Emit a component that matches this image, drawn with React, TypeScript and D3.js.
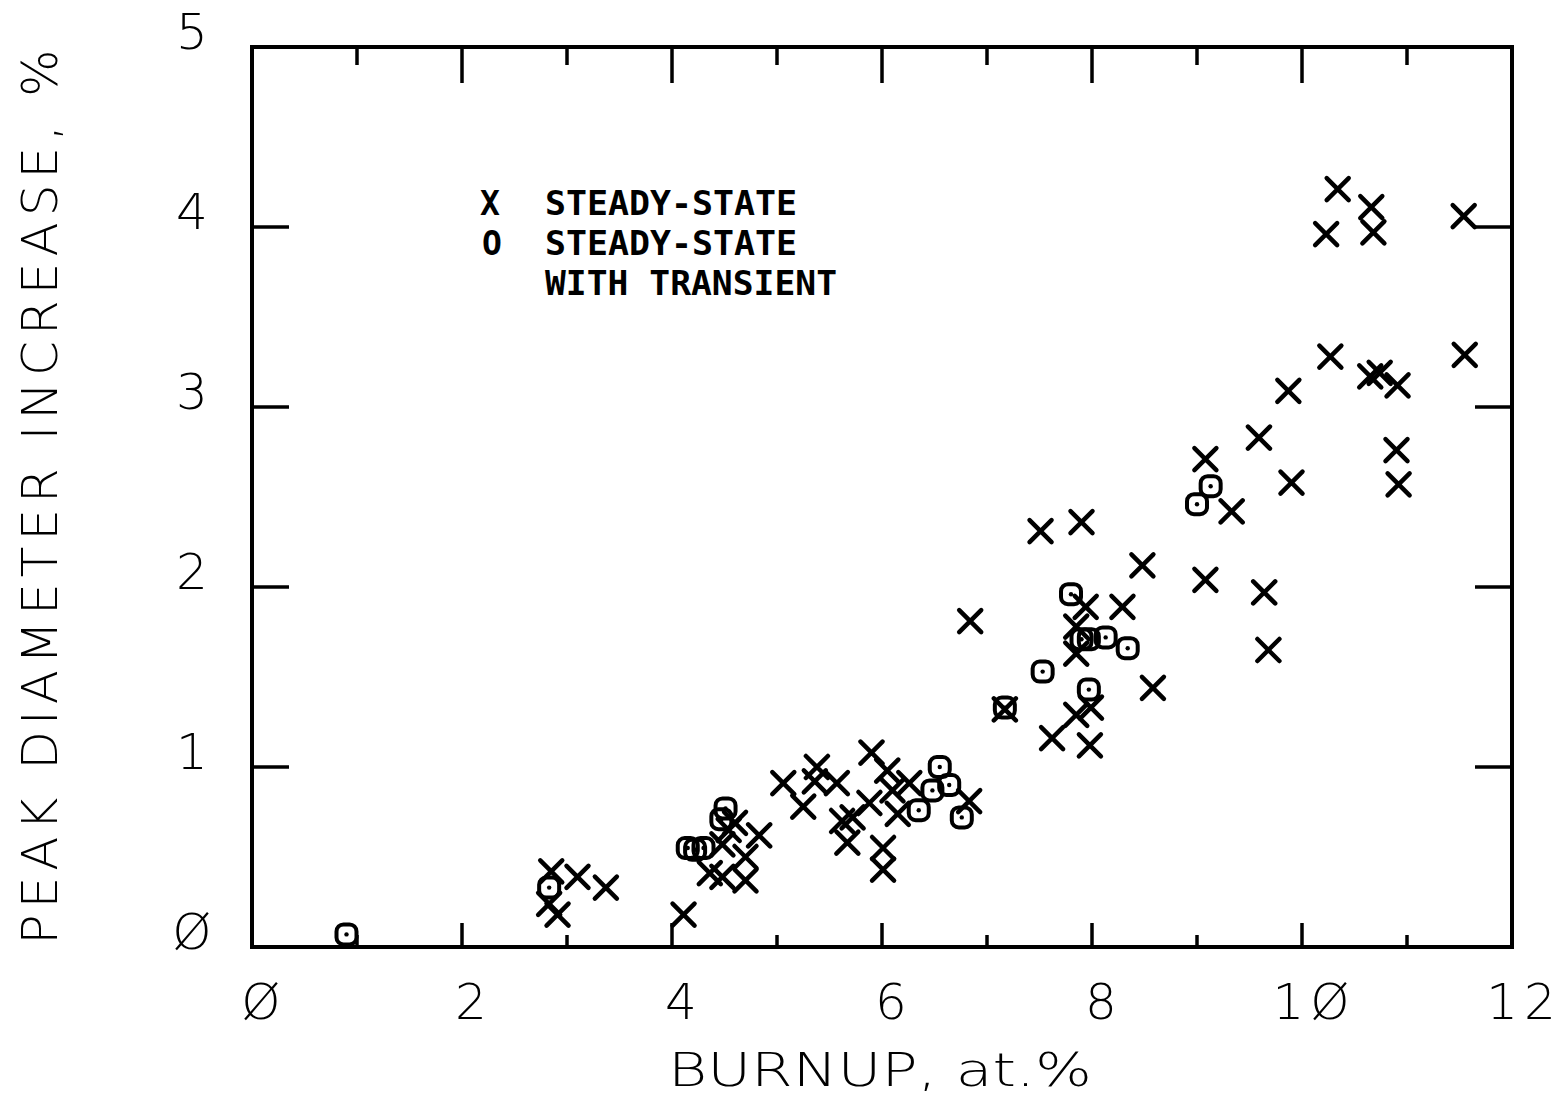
import React from "react";
import * as d3 from "d3";

// Steady-state (X markers): [burnup at.%, peak diameter increase %]
const steadyBurnup = [2.85, 2.83, 2.91, 3.1, 3.37, 4.11, 4.36, 4.48, 4.7, 4.7, 4.48, 4.54, 4.6, 4.83, 5.06, 5.38, 5.36, 5.57, 5.25, 5.62, 5.72, 5.67, 5.88, 5.9, 6.05, 6.1, 6.26, 6.15, 6.01, 6.01, 6.83, 6.84, 7.17, 7.51, 7.9, 8.48, 9.08, 9.33, 7.94, 8.29, 7.85, 7.85, 8.58, 7.99, 7.85, 7.62, 7.98, 10.34, 10.66, 10.23, 10.68, 11.54, 10.27, 11.55, 10.65, 10.74, 10.91, 9.87, 9.59, 10.9, 9.08, 9.9, 10.92, 9.64, 9.68];
const steadyIncrease = [0.42, 0.24, 0.18, 0.39, 0.33, 0.18, 0.41, 0.39, 0.37, 0.5, 0.57, 0.65, 0.69, 0.62, 0.91, 1.0, 0.92, 0.91, 0.78, 0.7, 0.72, 0.58, 0.8, 1.08, 0.98, 0.87, 0.91, 0.74, 0.55, 0.43, 0.81, 1.81, 1.32, 2.31, 2.36, 2.12, 2.04, 2.42, 1.89, 1.89, 1.78, 1.63, 1.44, 1.33, 1.29, 1.16, 1.12, 4.21, 4.11, 3.96, 3.97, 4.06, 3.28, 3.29, 3.17, 3.19, 3.12, 3.09, 2.83, 2.76, 2.71, 2.58, 2.57, 1.97, 1.65];

// Steady-state with transient (O markers)
const transientBurnup = [0.9, 2.83, 4.15, 4.22, 4.3, 4.47, 4.51, 6.35, 6.48, 6.55, 6.64, 6.76, 7.17, 7.53, 7.8, 7.9, 7.97, 8.13, 8.34, 7.97, 9.0, 9.13];
const transientIncrease = [0.07, 0.33, 0.55, 0.54, 0.55, 0.71, 0.77, 0.76, 0.87, 1.0, 0.9, 0.72, 1.33, 1.53, 1.96, 1.71, 1.71, 1.72, 1.66, 1.43, 2.46, 2.56];

const xTickLabels = ["Ø", "2", "4", "6", "8", "1Ø", "12"];
const xTickValues = [0, 2, 4, 6, 8, 10, 12];
const yTickLabels = ["Ø", "1", "2", "3", "4", "5"];
const yTickValues = [0, 1, 2, 3, 4, 5];
const legendLines = ["STEADY-STATE", "STEADY-STATE", "WITH TRANSIENT"];

const W = 1567;
const H = 1097;
const L = 252, R = 1512, T = 47, B = 947;

export default function App() {
  const x = d3.scaleLinear().domain([0, 12]).range([L, R]);
  const y = d3.scaleLinear().domain([0, 5]).range([B, T]);
  const ink = "#000";
  const minorX = d3.range(0, 13);

  const plotterFont = "'DejaVu Sans', sans-serif";

  const xs = steadyBurnup.map((b, i) => [x(b), y(steadyIncrease[i])]);
  const os = transientBurnup.map((b, i) => [x(b), y(transientIncrease[i])]);
  const s = 11;

  return (
    <svg width={W} height={H} style={{ position: "absolute", left: 0, top: 0, background: "#fff" }}>
      <rect x={0} y={0} width={W} height={H} fill="#fff" />
      {/* frame */}
      <rect x={L} y={T} width={R - L} height={B - T} fill="none" stroke={ink} strokeWidth={4} />
      {/* top & bottom ticks */}
      {minorX.map((v) => {
        const major = v % 2 === 0;
        if (v === 0 || v === 12) return null;
        return (
          <g key={"xt" + v}>
            <line x1={x(v)} x2={x(v)} y1={T} y2={T + (major ? 36 : 18)} stroke={ink} strokeWidth={3.5} />
            <line x1={x(v)} x2={x(v)} y1={B} y2={B - (major ? 24 : 12)} stroke={ink} strokeWidth={3.5} />
          </g>
        );
      })}
      {/* left & right ticks */}
      {[1, 2, 3, 4].map((v) => (
        <g key={"yt" + v}>
          <line x1={L} x2={L + 37} y1={y(v)} y2={y(v)} stroke={ink} strokeWidth={3.5} />
          <line x1={R} x2={R - 37} y1={y(v)} y2={y(v)} stroke={ink} strokeWidth={3.5} />
        </g>
      ))}
      {/* x tick labels */}
      {xTickValues.map((v, i) => (
        <text key={"xl" + v} x={x(v) + 12} y={1019} textAnchor="middle" fontFamily={plotterFont}
          fontWeight={200} fontSize={50} fill={ink} letterSpacing={6}>
          {xTickLabels[i]}
        </text>
      ))}
      {/* y tick labels */}
      {yTickValues.map((v, i) => (
        <text key={"yl" + v} x={192} y={y(v) + 2} textAnchor="middle" fontFamily={plotterFont}
          fontWeight={200} fontSize={50} fill={ink}>
          {yTickLabels[i]}
        </text>
      ))}
      {/* axis titles */}
      <text x={880} y={1086} textAnchor="middle" fontFamily={plotterFont} fontWeight={200} fontSize={46}
        fill={ink} textLength={424} lengthAdjust="spacingAndGlyphs">
        BURNUP, at.%
      </text>
      <text transform="translate(57,497) rotate(-90)" textAnchor="middle" fontFamily={plotterFont}
        fontWeight={200} fontSize={50} fill={ink} textLength={895} lengthAdjust="spacing">
        PEAK DIAMETER INCREASE, %
      </text>
      {/* legend */}
      <text x={490} y={215} textAnchor="middle" fontFamily="'DejaVu Sans Mono', monospace" fontWeight="bold" fontSize={33} fill={ink}>X</text>
      <text x={492} y={255} textAnchor="middle" fontFamily="'DejaVu Sans Mono', monospace" fontWeight="bold" fontSize={33} fill={ink}>O</text>
      {legendLines.map((t, i) => (
        <text key={"lg" + i} x={545} y={215 + 40 * i} fontFamily="'DejaVu Sans Mono', monospace" fontWeight="bold"
          fontSize={34} fill={ink} textLength={i === 2 ? 292 : 252} lengthAdjust="spacingAndGlyphs">
          {t}
        </text>
      ))}
      {/* steady-state X markers */}
      {xs.map(([cx, cy], i) => (
        <path key={"x" + i} d={`M${cx - s},${cy - s}L${cx + s},${cy + s}M${cx - s},${cy + s}L${cx + s},${cy - s}`}
          stroke={ink} strokeWidth={4.5} strokeLinecap="round" fill="none" />
      ))}
      {/* transient O markers */}
      {os.map(([cx, cy], i) => (
        <g key={"o" + i}>
          <rect x={cx - 10} y={cy - 10} width={20} height={20} rx={7} ry={7} fill="#fff" fillOpacity={0}
            stroke={ink} strokeWidth={4} />
          <circle cx={cx} cy={cy} r={2.2} fill={ink} />
        </g>
      ))}
    </svg>
  );
}
